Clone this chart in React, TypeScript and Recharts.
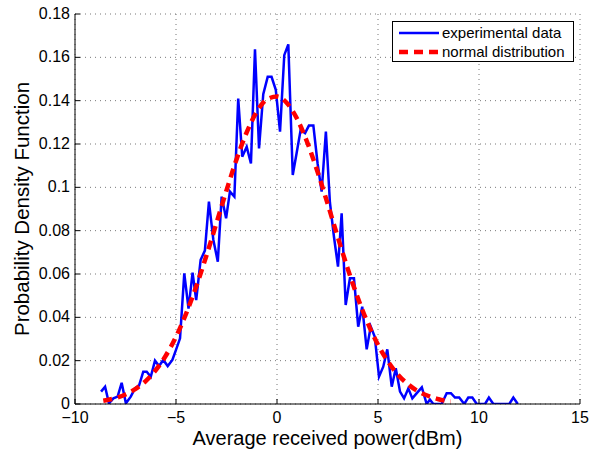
import { LineChart, Line, XAxis, YAxis, CartesianGrid, Legend } from "recharts";

const xTicks = [-10, -5, 0, 5, 10, 15];
const yTicks = [0, 0.02, 0.04, 0.06, 0.08, 0.1, 0.12, 0.14, 0.16, 0.18];

// experimental histogram
const expX = [
  -8.71, -8.51, -8.32, -8.1, -7.89, -7.69, -7.48, -7.24, -7.03, -6.83, -6.62, -6.45, -6.25, -6.04, -5.84,
  -5.63, -5.41, -5.18, -5.0, -4.8, -4.59, -4.38, -4.18, -4.0, -3.78, -3.57, -3.37, -3.15, -2.93, -2.74,
  -2.52, -2.33, -2.11, -1.92, -1.72, -1.5, -1.29, -1.09, -0.89, -0.68, -0.46, -0.27, -0.06, 0.15, 0.36,
  0.56, 0.78, 0.97, 1.17, 1.39, 1.58, 1.8, 2.01, 2.21, 2.42, 2.62, 2.82, 3.02, 3.2, 3.4, 3.61, 3.81, 4.02,
  4.22, 4.44, 4.64, 4.84, 5.05, 5.26, 5.46, 5.68, 5.88, 6.09, 6.29, 6.5, 6.7, 6.91, 7.17, 7.41, 7.57, 7.74,
  7.95, 8.15, 8.4, 8.61, 8.81, 9.02, 9.27, 9.47, 9.67, 9.89, 10.1, 10.3, 10.49, 10.71, 10.9, 11.1, 11.3,
  11.5, 11.7, 11.92,
];
const expY = [
  0.0057, 0.008, 0.0003, 0.0026, 0.0034, 0.0098, 0.0003, 0.0034, 0.0072, 0.0085, 0.0149, 0.0149, 0.0126,
  0.02, 0.0175, 0.0203, 0.0175, 0.0203, 0.025, 0.0303, 0.0603, 0.044, 0.0606, 0.048, 0.0665, 0.0708, 0.0934,
  0.0757, 0.0657, 0.0957, 0.0857, 0.098, 0.0957, 0.141, 0.1141, 0.1187, 0.111, 0.1637, 0.118, 0.143, 0.151,
  0.151, 0.145, 0.1257, 0.161, 0.166, 0.1057, 0.1157, 0.1265, 0.125, 0.1285, 0.1285, 0.111, 0.098, 0.1257,
  0.093, 0.0772, 0.0634, 0.088, 0.0457, 0.058, 0.058, 0.0357, 0.0449, 0.0252, 0.0357, 0.031, 0.0126, 0.0172,
  0.0252, 0.008, 0.0165, 0.0057, 0.0026, 0.0072, 0.0026, 0.0049, 0.0077, 0, 0.002, 0, 0, 0, 0.005, 0.005,
  0.003, 0.003, 0, 0.003, 0.003, 0, 0, 0, 0.003, 0, 0, 0, 0, 0, 0.003, 0,
];

// fitted normal curve
const fitX = [
  -8.6, -8, -7.5, -7, -6.5, -6, -5.5, -5, -4.5, -4, -3.5, -3, -2.5, -2, -1.5, -1, -0.5, 0, 0.5, 1, 1.5, 2,
  2.5, 3, 3.5, 4, 4.5, 5, 5.5, 6, 6.5, 7, 7.5, 8, 8.6,
];
const fitY = [
  0.0015, 0.0027, 0.0044, 0.007, 0.0106, 0.0157, 0.0224, 0.031, 0.0417, 0.0542, 0.0683, 0.0834, 0.0986,
  0.113, 0.1254, 0.1349, 0.1406, 0.1419, 0.1388, 0.1315, 0.1207, 0.1074, 0.0926, 0.0773, 0.0625, 0.049,
  0.0372, 0.0273, 0.0195, 0.0134, 0.009, 0.0058, 0.0037, 0.0022, 0.0012,
];

const expData = expX.map((x, i) => ({ x, y: expY[i] }));
const fitData = fitX.map((x, i) => ({ x, y: fitY[i] }));

const FONT = '"Liberation Sans", Arial, Helvetica, sans-serif';
const fmt = (v: number) => String(v).replace("-", "\u2212");

function BottomTick({ x, y, payload }: any) {
  return (
    <g>
      <line x1={x} y1={y} x2={x} y2={y - 5} stroke="#000" />
      <text x={x} y={y + 19} textAnchor="middle" fontSize={16} fontFamily={FONT} fill="#000">
        {fmt(payload.value)}
      </text>
    </g>
  );
}

function LeftTick({ x, y, payload }: any) {
  return (
    <g>
      <line x1={x} y1={y} x2={x + 5} y2={y} stroke="#000" />
      <text x={x - 5} y={y + 5} textAnchor="end" fontSize={16} fontFamily={FONT} fill="#000">
        {String(payload.value)}
      </text>
    </g>
  );
}

function TopTick({ x, y }: any) {
  return <line x1={x} y1={y} x2={x} y2={y + 5} stroke="#000" />;
}

function RightTick({ x, y }: any) {
  return <line x1={x} y1={y} x2={x - 5} y2={y} stroke="#000" />;
}

function XTitle({ viewBox }: any) {
  return (
    <text x={viewBox.x + viewBox.width / 2} y={445} textAnchor="middle" fontSize={20} fontFamily={FONT} fill="#000">
      Average received power(dBm)
    </text>
  );
}

function YTitle({ viewBox }: any) {
  const cx = 29;
  const cy = viewBox.y + viewBox.height / 2;
  return (
    <text x={cx} y={cy} transform={`rotate(-90 ${cx} ${cy})`} textAnchor="middle" fontSize={20.5} fontFamily={FONT} fill="#000">
      Probability Density Function
    </text>
  );
}

function LegendBox() {
  return (
    <div style={{ width: 180, height: 39, border: "1px solid #000", background: "#fff" }}>
      <svg width={180} height={39} style={{ display: "block" }}>
        <line x1={6} y1={11} x2={46} y2={11} stroke="#0000ff" strokeWidth={2.5} />
        <line x1={6} y1={30} x2={46} y2={30} stroke="#ff0000" strokeWidth={4.5} strokeDasharray="9 6" />
        <text x={49} y={16} fontSize={15} fontFamily={FONT} fill="#000">experimental data</text>
        <text x={49} y={35} fontSize={15} fontFamily={FONT} fill="#000">normal distribution</text>
      </svg>
    </div>
  );
}

export default function App() {
  return (
    <div style={{ position: "absolute", left: 0, top: 0, background: "#fff" }}>
      <LineChart width={601} height={449} margin={{ top: 14, right: 21, left: 0, bottom: 0 }}>
        <CartesianGrid stroke="#777" strokeDasharray="1 4" />
        <XAxis
          type="number"
          dataKey="x"
          domain={[-10, 15]}
          ticks={xTicks}
          interval={0}
          allowDataOverflow
          height={45}
          tickSize={0}
          tickMargin={0}
          tickLine={false}
          tick={<BottomTick />}
          axisLine={{ stroke: "#000" }}
          label={<XTitle />}
        />
        <XAxis
          xAxisId="t"
          orientation="top"
          type="number"
          dataKey="x"
          domain={[-10, 15]}
          ticks={xTicks}
          interval={0}
          height={0}
          tickSize={0}
          tickMargin={0}
          tickLine={false}
          tick={<TopTick />}
          axisLine={{ stroke: "#000" }}
        />
        <YAxis
          type="number"
          domain={[0, 0.18]}
          ticks={yTicks}
          interval={0}
          allowDataOverflow
          width={75}
          tickSize={0}
          tickMargin={0}
          tickLine={false}
          tick={<LeftTick />}
          axisLine={{ stroke: "#000" }}
          label={<YTitle />}
        />
        <YAxis
          yAxisId="r"
          orientation="right"
          type="number"
          domain={[0, 0.18]}
          ticks={yTicks}
          interval={0}
          width={0}
          tickSize={0}
          tickMargin={0}
          tickLine={false}
          tick={<RightTick />}
          axisLine={{ stroke: "#000" }}
        />
        <Legend
          layout="vertical"
          align="center"
          verticalAlign="middle"
          content={<LegendBox />}
          wrapperStyle={{ left: 392, top: 21, width: 182, height: 41 }}
        />
        <Line
          data={expData}
          dataKey="y"
          type="linear"
          stroke="#0000ff"
          strokeWidth={2.5}
          dot={false}
          activeDot={false}
          isAnimationActive={false}
        />
        <Line
          data={fitData}
          dataKey="y"
          type="monotone"
          stroke="#ff0000"
          strokeWidth={4.5}
          strokeDasharray="9 6"
          dot={false}
          activeDot={false}
          isAnimationActive={false}
        />
      </LineChart>
    </div>
  );
}
